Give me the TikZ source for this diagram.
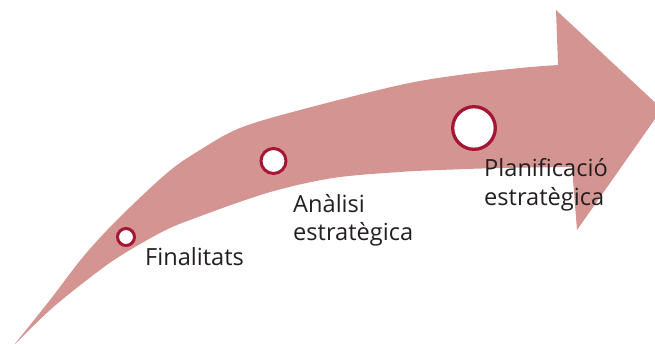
\documentclass[tikz,border=0pt]{standalone}
\usepackage{fontspec}
\setmainfont{Open Sans}
\definecolor{arrowpink}{RGB}{212,148,145}
\definecolor{ringred}{RGB}{166,22,52}
\definecolor{textdark}{RGB}{35,31,32}
\begin{document}
\begin{tikzpicture}[x=1pt,y=-1pt,
  ring/.style={circle,draw=ringred,fill=white,inner sep=0pt},
  label/.style={anchor=base west,inner sep=0pt,align=left,text=textdark,
    font=\fontsize{23.6}{28.2}\selectfont}]
\useasboundingbox (0,0) rectangle (655,343);
\clip (0,0) rectangle (655,343);
\fill[arrowpink]
  plot[smooth,tension=0.55] coordinates {(14,345) (50,300) (83,257) (117,220) (167,173) (200,150) (240,128) (300,110) (400,85) (459,75) (520,68) (558,65)}
  -- (556,10) -- (662,109) -- (577,230) -- (572,167)
  -- plot[smooth,tension=0.55] coordinates {(572,167) (500,168) (440,170) (400,172) (333,178) (267,193) (190,220) (160,233) (117,258) (83,283) (50,310) (14,345)}
  -- cycle;
\node[ring,line width=3pt,minimum size=17pt] (c1) at (126,237) {};
\node[ring,line width=3pt,minimum size=25pt] (c2) at (273.5,161) {};
\node[ring,line width=3.3pt,minimum size=42.6pt] (c3) at (474,128) {};
\node[label] (l1) at (145,265) {Finalitats};
\node[label] (l2) at (293,240.2) {Anàlisi\\estratègica};
\node[label] (l3) at (484,205) {Planificació\\estratègica};
\end{tikzpicture}
\end{document}
